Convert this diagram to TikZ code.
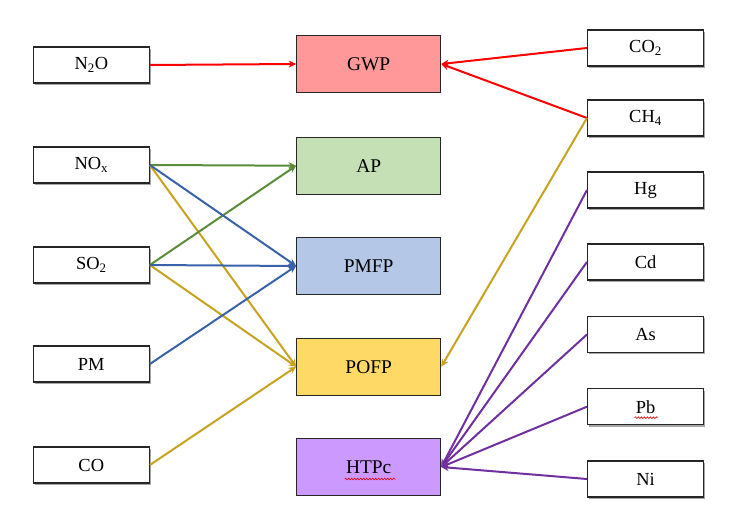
\documentclass[tikz,border=0pt]{standalone}
\usepackage{fontspec}
\setmainfont{Liberation Serif}
\usetikzlibrary{arrows.meta,shadows,calc,decorations.pathmorphing}
\definecolor{cred}{HTML}{FF0000}
\definecolor{cgreen}{HTML}{5B8C3A}
\definecolor{cblue}{HTML}{3A62A8}
\definecolor{cgold}{HTML}{C9A21F}
\definecolor{cpurple}{HTML}{7030A0}
\definecolor{fgwp}{HTML}{FF9999}
\definecolor{fap}{HTML}{C5E0B4}
\definecolor{fpmfp}{HTML}{B4C7E7}
\definecolor{fpofp}{HTML}{FFD966}
\definecolor{fhtpc}{HTML}{CC99FF}
\tikzset{
  srcbox/.style={draw=black!85, line width=1.1bp, fill=white, minimum width=116bp, minimum height=36bp, inner sep=0pt,
    font=\fontsize{18.5}{20}\selectfont,
    drop shadow={shadow xshift=1.8bp, shadow yshift=-1.8bp, opacity=0.35, fill=black}},
  impbox/.style={draw=black!85, line width=1.1bp, minimum width=144bp, minimum height=57bp, inner sep=0pt,
    font=\fontsize{19.5}{21}\selectfont},
  link/.style={line width=2bp, -{Stealth[length=7.5bp,width=7bp]}},
  squig/.style={draw=red!85!black, line width=0.6bp, decorate, decoration={snake, amplitude=0.9bp, segment length=3bp}}
}
\begin{document}
\begin{tikzpicture}[x=1bp,y=-1bp]
\useasboundingbox (0,0) rectangle (739,521);
% left sources
\node[srcbox] (n2o) at (91.3,65) {N\textsubscript{2}O};
\node[srcbox] (nox) at (91.3,165) {NO\textsubscript{x}};
\node[srcbox] (so2) at (91.3,265) {SO\textsubscript{2}};
\node[srcbox] (pm)  at (91.3,364) {PM};
\node[srcbox] (co)  at (91.3,465) {CO};
% impacts
\node[impbox, fill=fgwp]  (gwp)  at (368.7,64) {GWP};
\node[impbox, fill=fap]   (ap)   at (368.7,165.7) {AP};
\node[impbox, fill=fpmfp] (pmfp) at (368.7,266) {PMFP};
\node[impbox, fill=fpofp] (pofp) at (368.7,366.7) {POFP};
\node[impbox, fill=fhtpc] (htpc) at (368.7,467) {HTPc};
% right sources
\node[srcbox] (co2) at (645.5,48) {CO\textsubscript{2}};
\node[srcbox] (ch4) at (645.5,118) {CH\textsubscript{4}};
\node[srcbox] (hg)  at (645.5,190) {Hg};
\node[srcbox] (cd)  at (645.5,262) {Cd};
\node[srcbox] (as)  at (645.5,334.5) {As};
\node[srcbox] (pb)  at (645.5,406.7) {Pb};
\node[srcbox] (ni)  at (645.5,479) {Ni};
% spell-check squiggles
\draw[squig] ($(htpc.center)+(-24,12)$) -- ($(htpc.center)+(27,12)$);
\draw[squig] ($(pb.center)+(-11,11)$) -- ($(pb.center)+(12,11)$);
% links left
\draw[link, cred] (n2o.east) -- (gwp.west);
\draw[link, cgold] (nox.east) -- (pofp.west);
\draw[link, cgold] (so2.east) -- (pofp.west);
\draw[link, cgold] (co.east) -- (pofp.west);
\draw[link, cgreen] (nox.east) -- (ap.west);
\draw[link, cgreen] (so2.east) -- (ap.west);
\draw[link, cblue] (nox.east) -- (pmfp.west);
\draw[link, cblue] (so2.east) -- (pmfp.west);
\draw[link, cblue] (pm.east) -- (pmfp.west);
% links right
\draw[link, cred] (co2.west) -- (gwp.east);
\draw[link, cred] (ch4.west) -- (gwp.east);
\draw[link, cgold] (ch4.west) -- (pofp.east);
\draw[link, cpurple] (hg.west) -- (htpc.east);
\draw[link, cpurple] (cd.west) -- (htpc.east);
\draw[link, cpurple] (as.west) -- (htpc.east);
\draw[link, cpurple] (pb.west) -- (htpc.east);
\draw[link, cpurple] (ni.west) -- (htpc.east);
\end{tikzpicture}
\end{document}
